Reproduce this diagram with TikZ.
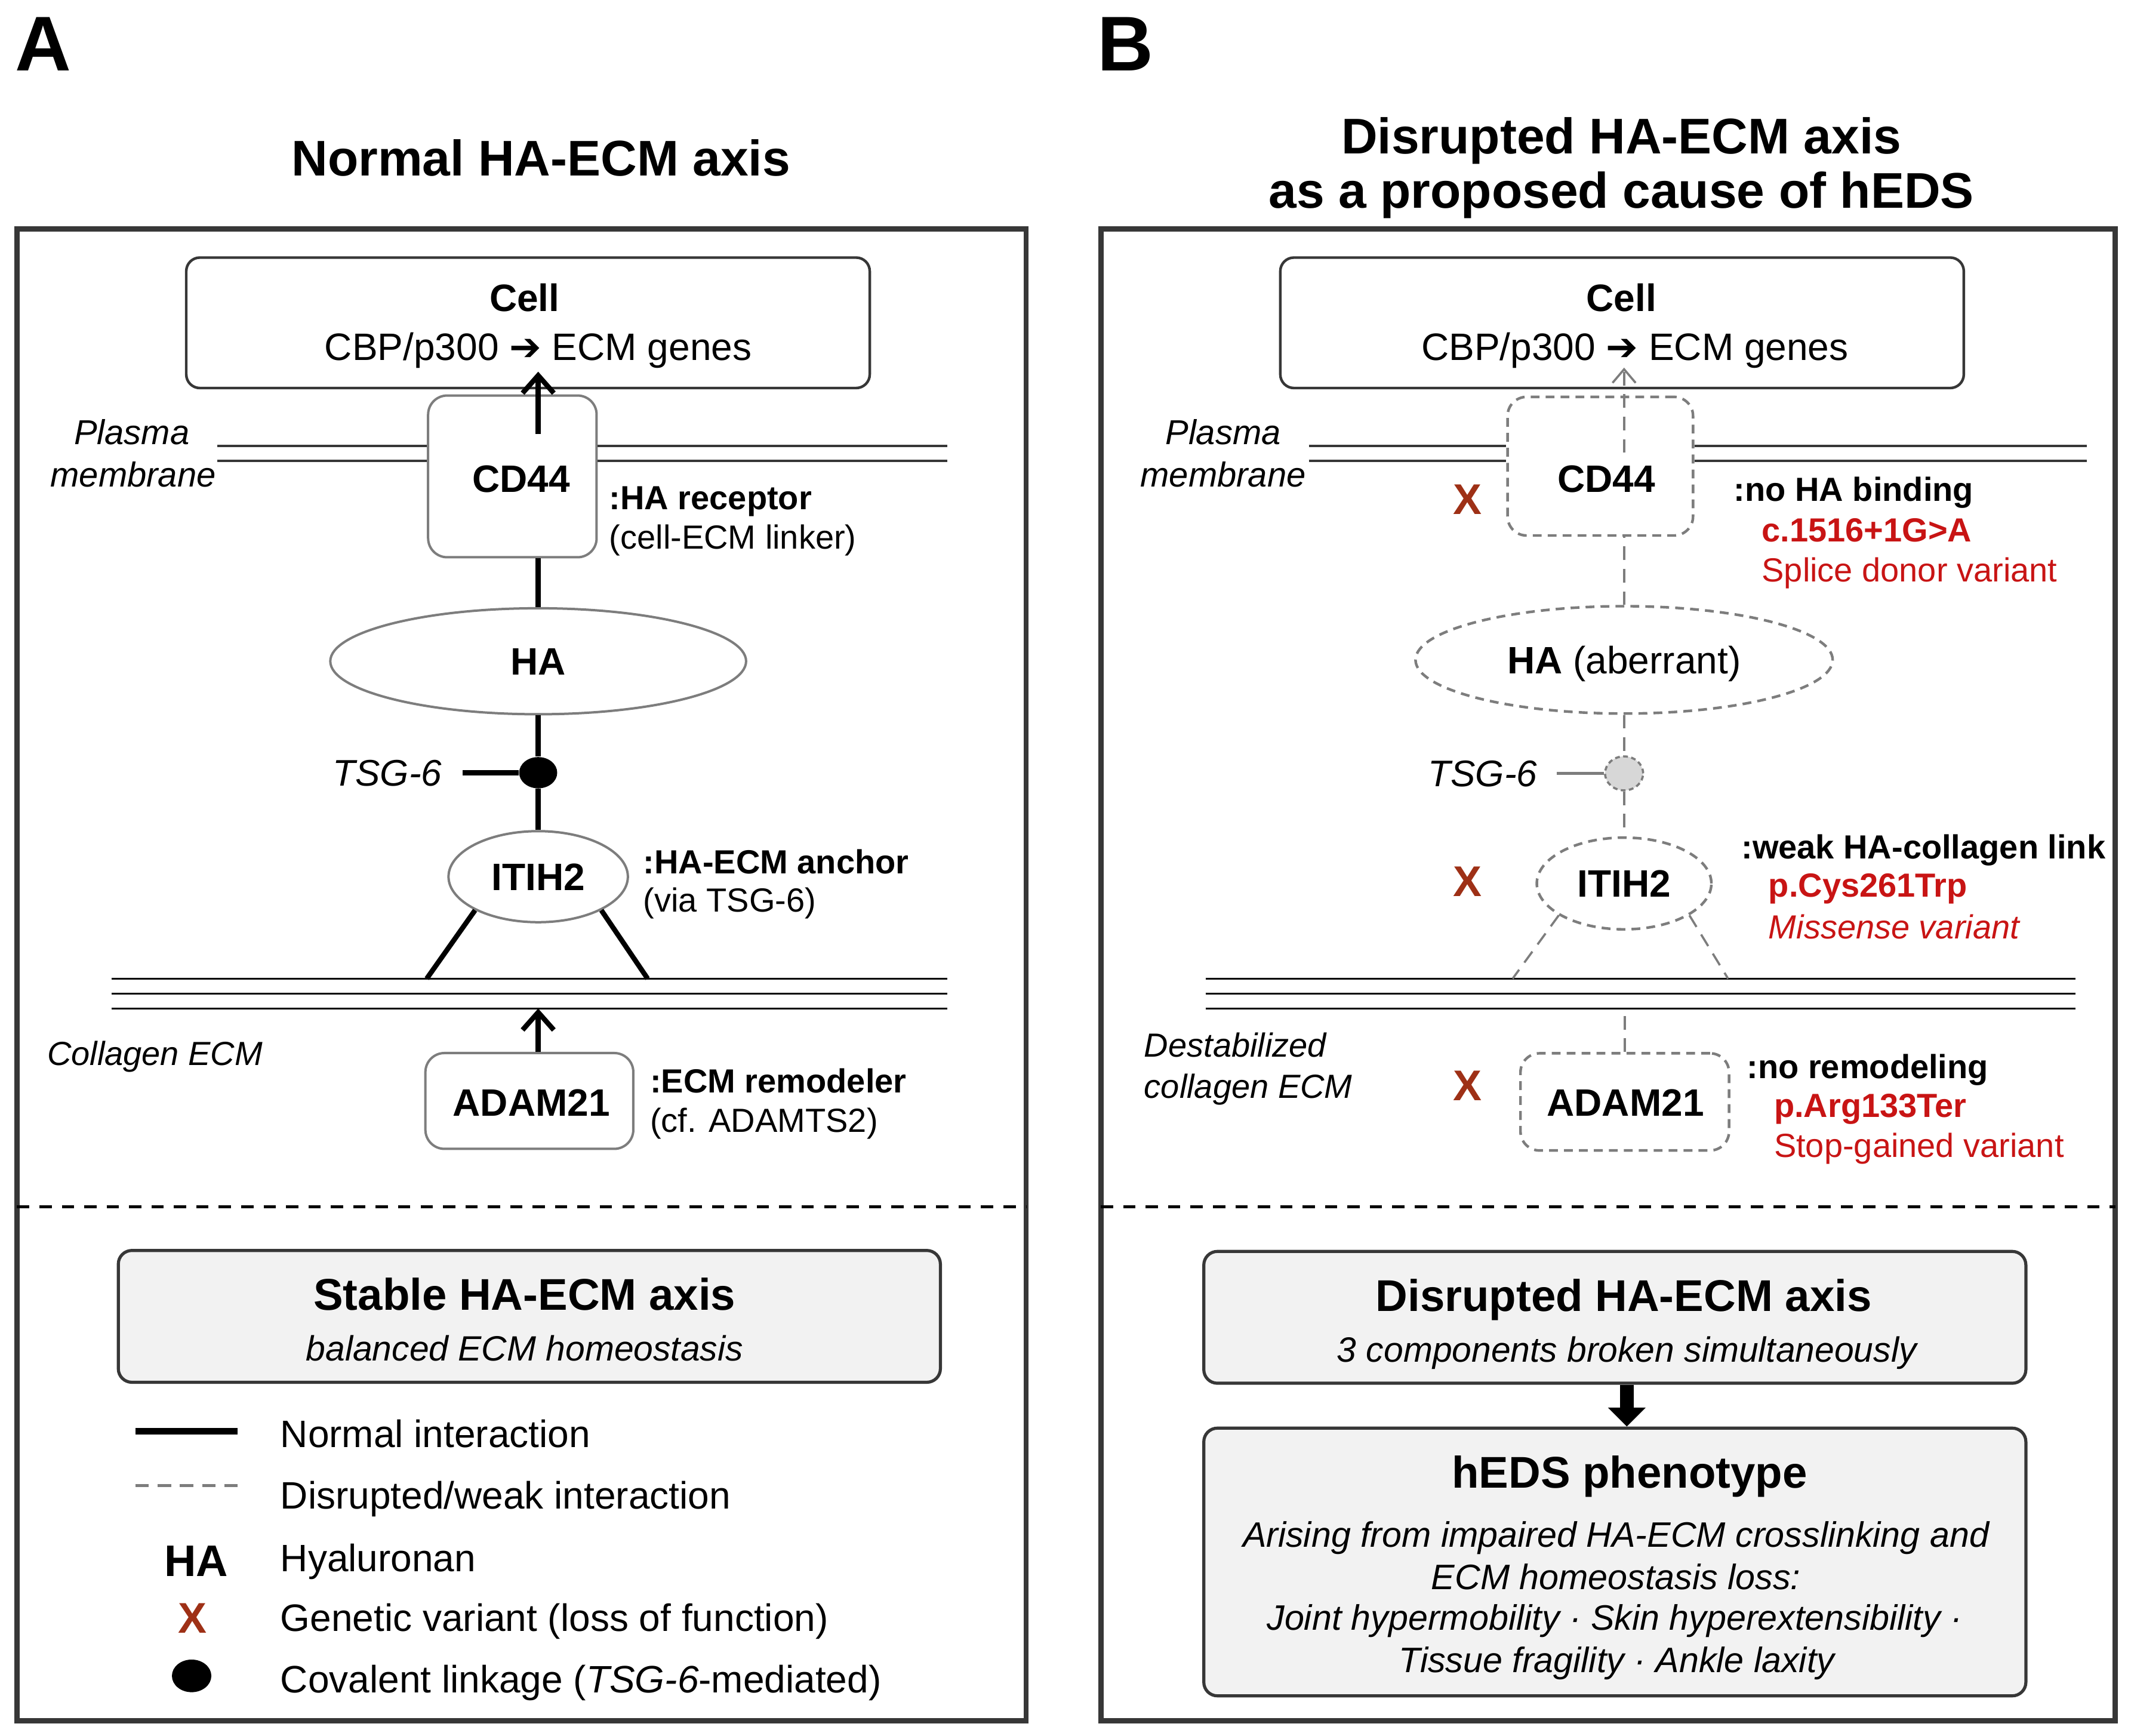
\documentclass[tikz,border=0pt]{standalone}
\usepackage{fontspec}
\setmainfont{Liberation Sans}
\newfontfamily\symf{DejaVu Sans}
\usetikzlibrary{arrows.meta,shapes.geometric,calc}
\definecolor{xred}{RGB}{158,48,22}
\definecolor{vred}{RGB}{200,20,20}
\definecolor{dgray}{RGB}{55,55,55}
\definecolor{mgray}{RGB}{125,125,125}
\definecolor{lfill}{RGB}{242,242,242}
\definecolor{dotgray}{RGB}{215,215,215}
\tikzset{
  fsz/.style={font=\fontsize{#1}{#1}\selectfont, inner sep=0pt, text height={0.716*#1pt}, text depth=0pt},
  lw/.style={fsz=#1, anchor=west},
  outerbox/.style={draw=dgray, line width=2.2pt},
  divl/.style={draw=black, line width=1.25pt, dash pattern=on 0.18cm off 0.15cm},
  cellbox/.style={draw=dgray, line width=1.1pt, rounded corners=0.2cm, minimum width=10.06cm, minimum height=1.92cm, inner sep=0pt},
  pbox/.style={draw=mgray, line width=1pt, rounded corners=0.28cm, inner sep=0pt},
  dbox/.style={draw=mgray, line width=1.1pt, dash pattern=on 0.13cm off 0.09cm, rounded corners=0.28cm, inner sep=0pt},
  pell/.style={ellipse, draw=mgray, line width=1pt},
  dell/.style={ellipse, draw=mgray, line width=1.1pt, dash pattern=on 0.13cm off 0.09cm},
  conn/.style={draw=black, line width=2.1pt},
  wconn/.style={draw=mgray, line width=0.9pt, dash pattern=on 0.2cm off 0.13cm},
  memb/.style={draw=dgray, line width=0.9pt},
  sumbox/.style={draw=dgray, fill=lfill, line width=1.3pt, rounded corners=0.2cm, inner sep=0pt, minimum width=12.1cm},
  xmk/.style={fsz=18, text=xred},
  barb/.style={-{Straight Barb[length=0.26cm,width=0.46cm]}},
  wbarb/.style={-{Straight Barb[length=0.2cm,width=0.34cm]}},
}
\begin{document}
\begin{tikzpicture}[x=0.02cm,y=-0.02cm]
\useasboundingbox (0,0) rectangle (1568,1277);

% ---------- letters and titles ----------
\node[fsz=32.5] (letA) at (32,31.5) {\bfseries A};
\node[fsz=32.5] (letB) at (828,31.5) {\bfseries B};
\node[fsz=21] (titA) at (398,116) {\bfseries Normal HA-ECM axis};
\node[fsz=21] (titB1) at (1193,100) {\bfseries Disrupted HA-ECM axis};
\node[fsz=21] (titB2) at (1193,140) {\bfseries as a proposed cause of hEDS};

% ---------- frames ----------
\draw[outerbox] (12.5,168.5) rectangle (755,1266);
\draw[outerbox] (810,168.5) rectangle (1556.5,1266);
\draw[divl] (12.5,888) -- (755,888);
\draw[divl] (810,888) -- (1556.5,888);

% =============== PANEL A ===============
\node[cellbox] (cellA) at (388.5,237.5) {};
\node[fsz=16] (cellAt1) at (386,219) {\bfseries Cell};
\node[fsz=16] (cellAt2) at (396,255) {CBP/p300 {\symf ➔} ECM genes};

\node[pbox, minimum width=2.48cm, minimum height=2.38cm] (cd44A) at (377,350.5) {};
\node[fsz=16] (cd44At) at (383.5,352) {\bfseries CD44};

\coordinate (pmAl1) at (160,328); \coordinate (pmAr1) at (697,328);
\coordinate (pmAl2) at (160,339); \coordinate (pmAr2) at (697,339);
\draw[memb] (pmAl1) -- (pmAl1 -| cd44A.west);
\draw[memb] (pmAl2) -- (pmAl2 -| cd44A.west);
\draw[memb] (pmAr1 -| cd44A.east) -- (pmAr1);
\draw[memb] (pmAr2 -| cd44A.east) -- (pmAr2);
\node[fsz=14.5] (pmA1) at (97,318) {\itshape Plasma};
\node[fsz=14.5] (pmA2) at (98,349) {\itshape membrane};

\node[pell, fsz=16, minimum width=6.12cm, minimum height=1.56cm] (haA) at (396,486.5) {\bfseries HA};
\draw[conn, barb] ($(cd44A.north -| haA.north)+(0,29)$) -- ($(cellA.south -| haA.north)+(0,-13)$);
\draw[conn] (cd44A.south -| haA.north) -- (haA.north);

\node[ellipse, fill=black, inner sep=0pt, minimum width=0.56cm, minimum height=0.46cm] (dotA) at (396,568.5) {};
\draw[conn] (haA.south) -- (dotA.north);
\node[fsz=15.5] (tsgA) at (285,568.5) {\itshape TSG-6};
\draw[conn] ($(tsgA.east)+(15,0)$) -- (dotA.west);

\node[pell, fsz=16, minimum width=2.64cm, minimum height=1.34cm] (itihA) at (396,645) {\bfseries ITIH2};
\draw[conn] (dotA.south) -- (itihA.north);

\coordinate (colA1l) at (82,720); \coordinate (colA1r) at (697,720);
\coordinate (colA2l) at (82,731); \coordinate (colA2r) at (697,731);
\coordinate (colA3l) at (82,742); \coordinate (colA3r) at (697,742);
\draw[memb, draw=black] (colA1l) -- (colA1r);
\draw[memb, draw=black] (colA2l) -- (colA2r);
\draw[memb, draw=black] (colA3l) -- (colA3r);
\coordinate (legAl) at (314,720); \coordinate (legAr) at (476.5,720);
\draw[conn] (itihA.208) -- (legAl);
\draw[conn] (itihA.332) -- (legAr);

\node[pbox, minimum width=3.06cm, minimum height=1.41cm] (adamA) at (389.5,810) {};
\node[fsz=16] (adamAt) at (391,811) {\bfseries ADAM21};
\draw[conn, barb] (adamA.north -| haA.south) -- (colA3l -| haA.south);
\node[fsz=14] (colAt) at (114,775) {\itshape Collagen ECM};

\node[lw=14] (nA1) at (448,366) {\bfseries :HA receptor};
\node[lw=14] (nA2) at (448,395) {(cell-ECM linker)};
\node[lw=14] (nA3) at (473,634) {\bfseries :HA-ECM anchor};
\node[lw=14] (nA4) at (473,662) {(via TSG-6)};
\node[lw=14] (nA5) at (478,795) {\bfseries :ECM remodeler};
\node[lw=14] (nA6) at (478,824) {(cf. ADAMTS2)};

% summary A
\node[sumbox, minimum height=1.94cm] (stabA) at (389.5,968.5) {};
\node[fsz=18.6] (stabAt1) at (386,952) {\bfseries Stable HA-ECM axis};
\node[fsz=14.7] (stabAt2) at (386,992) {\itshape balanced ECM homeostasis};

% legend
\coordinate (lg1a) at (99.5,1053); \coordinate (lg1b) at (175,1053);
\draw[line width=2.7pt] (lg1a) -- (lg1b);
\node[lw=16] (lgt1) at (206,1055) {Normal interaction};
\coordinate (lg2a) at (99.5,1093); \coordinate (lg2b) at (175,1093);
\draw[draw=mgray, line width=1.1pt, dash pattern=on 0.2cm off 0.128cm] (lg2a) -- (lg2b);
\node[lw=16] (lgt2) at (206,1100) {Disrupted/weak interaction};
\node[fsz=18.5] (lgHA) at (144.5,1148) {\bfseries HA};
\node[lw=16] (lgt3) at (206,1146) {Hyaluronan};
\node[xmk] (lgX) at (141.5,1190) {\bfseries X};
\node[lw=16] (lgt4) at (206,1190) {Genetic variant (loss of function)};
\node[ellipse, fill=black, inner sep=0pt, minimum width=0.58cm, minimum height=0.48cm] (lgDot) at (141,1233) {};
\node[lw=16] (lgt5) at (206,1235.5) {Covalent linkage (\textit{TSG-6}-mediated)};

% =============== PANEL B ===============
\node[cellbox] (cellB) at (1193.5,237.5) {};
\node[fsz=16] (cellBt1) at (1193,219) {\bfseries Cell};
\node[fsz=16] (cellBt2) at (1203,255) {CBP/p300 {\symf ➔} ECM genes};

\node[dbox, minimum width=2.73cm, minimum height=2.04cm] (cd44B) at (1177.5,343) {};
\node[fsz=16] (cd44Bt) at (1182,352) {\bfseries CD44};

\coordinate (pmBl1) at (963,328); \coordinate (pmBr1) at (1535.5,328);
\coordinate (pmBl2) at (963,339); \coordinate (pmBr2) at (1535.5,339);
\draw[memb] (pmBl1) -- (pmBl1 -| cd44B.west);
\draw[memb] (pmBl2) -- (pmBl2 -| cd44B.west);
\draw[memb] (pmBr1 -| cd44B.east) -- (pmBr1);
\draw[memb] (pmBr2 -| cd44B.east) -- (pmBr2);
\node[fsz=14.5] (pmB1) at (900,318) {\itshape Plasma};
\node[fsz=14.5] (pmB2) at (900,349) {\itshape membrane};

\node[dell, fsz=16, minimum width=6.14cm, minimum height=1.58cm] (haB) at (1195,485.5) {\bfseries HA\mdseries\ (aberrant)};
\draw[wconn] (haB.north) -- (haB.north |- cd44B.south);
\draw[wconn, wbarb] ($(haB.north |- cd44B.north)+(0,42)$) -- ($(cellB.south -| haB.north)+(0,-16)$);

\node[ellipse, fill=dotgray, draw=mgray, line width=0.9pt, dash pattern=on 0.07cm off 0.05cm, inner sep=0pt, minimum width=0.56cm, minimum height=0.5cm] (dotB) at (1195,569) {};
\draw[wconn] (haB.south) -- (dotB.north);
\node[fsz=15.5] (tsgB) at (1091,569) {\itshape TSG-6};
\draw[draw=mgray, line width=1.1pt] ($(tsgB.east)+(14,0)$) -- (dotB.west);

\node[dell, fsz=16, minimum width=2.57cm, minimum height=1.35cm] (itihB) at (1195,650) {\bfseries ITIH2};
\draw[wconn] (dotB.south) -- (itihB.north);

\coordinate (colB1l) at (887,720); \coordinate (colB1r) at (1527,720);
\coordinate (colB2l) at (887,731); \coordinate (colB2r) at (1527,731);
\coordinate (colB3l) at (887,742); \coordinate (colB3r) at (1527,742);
\draw[memb, draw=black] (colB1l) -- (colB1r);
\draw[memb, draw=black] (colB2l) -- (colB2r);
\draw[memb, draw=black] (colB3l) -- (colB3r);
\coordinate (legBl) at (1113,720); \coordinate (legBr) at (1271.5,720);
\draw[wconn] (itihB.206) -- (legBl);
\draw[wconn] (itihB.334) -- (legBr);

\node[dbox, minimum width=3.07cm, minimum height=1.43cm] (adamB) at (1195.5,810.7) {};
\node[fsz=16] (adamBt) at (1196,811) {\bfseries ADAM21};
\draw[wconn] (adamB.north) -- (adamB.north |- colB3l);
\node[lw=14] (colBt1) at (841.6,769) {\itshape Destabilized};
\node[lw=14] (colBt2) at (841.6,799) {\itshape collagen ECM};

\node[xmk] (xB1) at (1080,367) {\bfseries X};
\node[xmk] (xB2) at (1080,648) {\bfseries X};
\node[xmk] (xB3) at (1080,798.5) {\bfseries X};

\node[lw=14] (nB1) at (1275.5,360) {\bfseries :no HA binding};
\node[lw=14, text=vred] (nB2) at (1296,389.6) {\bfseries c.1516+1G>A};
\node[lw=14, text=vred] (nB3) at (1296,419) {Splice donor variant};
\node[lw=14] (nB4) at (1281,623) {\bfseries :weak HA-collagen link};
\node[lw=14, text=vred] (nB5) at (1301,651) {\bfseries p.Cys261Trp};
\node[lw=14, text=vred] (nB6) at (1301,681.7) {\itshape Missense variant};
\node[lw=14] (nB7) at (1285,784.7) {\bfseries :no remodeling};
\node[lw=14, text=vred] (nB8) at (1305,813) {\bfseries p.Arg133Ter};
\node[lw=14, text=vred] (nB9) at (1305,842.5) {Stop-gained variant};

% summary B
\node[sumbox, minimum height=1.94cm] (disB) at (1188.2,969.2) {};
\node[fsz=18.6] (disBt1) at (1194.7,953) {\bfseries Disrupted HA-ECM axis};
\node[fsz=14.7] (disBt2) at (1197,993) {\itshape 3 components broken simultaneously};
\node[sumbox, minimum height=3.94cm] (hedsB) at (1188.2,1149.2) {};
\node[fsz=18.6] (hedsBt) at (1199,1083) {\bfseries hEDS phenotype};
\node[fsz=14.8] (hedsL1) at (1189,1128.8) {\itshape Arising from impaired HA-ECM crosslinking and};
\node[fsz=14.8] (hedsL2) at (1189,1160) {\itshape ECM homeostasis loss:};
\node[fsz=14.8] (hedsL3) at (1188,1190) {\itshape Joint hypermobility · Skin hyperextensibility ·};
\node[fsz=14.8] (hedsL4) at (1189.5,1221) {\itshape Tissue fragility · Ankle laxity};
\coordinate (arrx) at (1197,1030);
\draw[line width=0.2cm, -{Triangle[length=0.28cm,width=0.54cm]}] (disB.south -| arrx) -- (hedsB.north -| arrx);
\end{tikzpicture}
\end{document}
